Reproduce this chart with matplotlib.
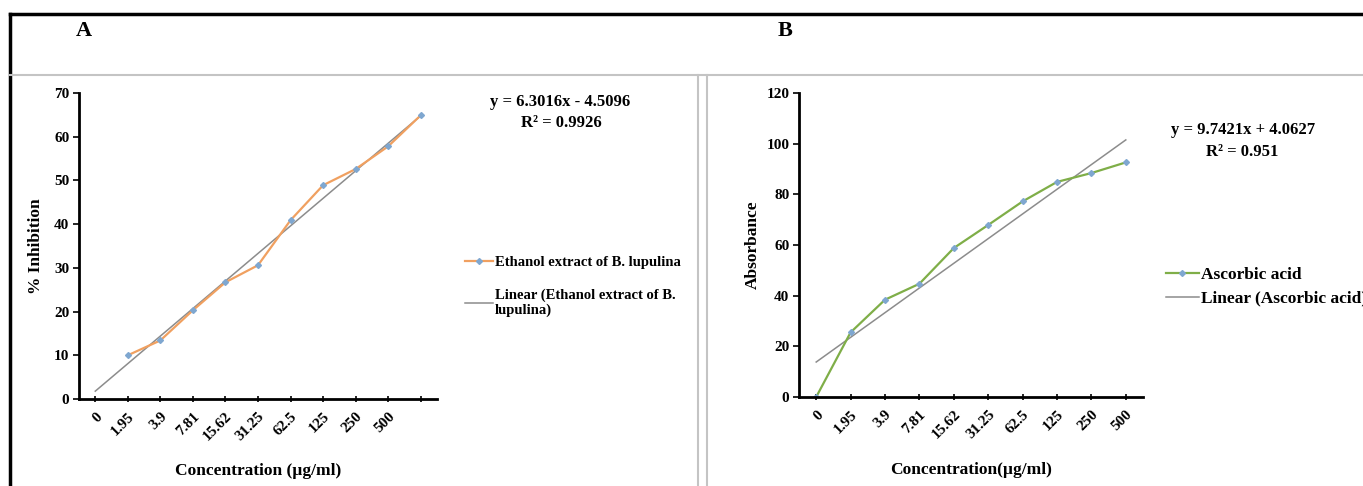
import numpy as np
import matplotlib
matplotlib.use('Agg')
import matplotlib.pyplot as plt
from matplotlib.lines import Line2D

plt.rcParams['font.family'] = ['Liberation Serif', 'DejaVu Serif']
plt.rcParams['font.weight'] = 'bold'

# Panel A - ethanol extract, % inhibition
labels_a = ['0', '1.95', '3.9', '7.81', '15.62', '31.25', '62.5', '125', '250', '500', '']
pos_a = [2, 3, 4, 5, 6, 7, 8, 9, 10, 11]
inhib_a = [10.0, 13.4, 20.3, 26.7, 30.6, 40.9, 48.9, 52.6, 57.8, 64.9]
slope_a, icpt_a = 6.3016, -4.5096

# Panel B - ascorbic acid
labels_b = ['0', '1.95', '3.9', '7.81', '15.62', '31.25', '62.5', '125', '250', '500']
pos_b = [1, 2, 3, 4, 5, 6, 7, 8, 9, 10]
absorb_b = [0.0, 25.5, 38.4, 44.7, 58.8, 67.9, 77.2, 84.9, 88.4, 92.6]
slope_b, icpt_b = 9.7421, 4.0627

W, H = 1363, 486
fig = plt.figure(figsize=(W / 100, H / 100), dpi=100)


def fx(px):
    return px / W


def fy(py):
    return 1 - py / H


# outer black frame and gray panel frames
fig.add_artist(Line2D([fx(10), fx(10)], [fy(14), 0], color='black', lw=2.5))
fig.add_artist(Line2D([fx(10), 1], [fy(14), fy(14)], color='black', lw=2.5))
fig.add_artist(Line2D([fx(10), 1], [fy(75), fy(75)], color='#c4c4c4', lw=1.5))
fig.add_artist(Line2D([fx(698), fx(698)], [fy(75), 0], color='#c4c4c4', lw=1.5))
fig.add_artist(Line2D([fx(707), fx(707)], [fy(75), 0], color='#c4c4c4', lw=1.5))

fig.text(fx(84), fy(31), 'A', fontsize=16, fontweight='bold', ha='center', va='center')
fig.text(fx(785), fy(31), 'B', fontsize=16, fontweight='bold', ha='center', va='center')


def style_axis(ax):
    for s in ['top', 'right']:
        ax.spines[s].set_visible(False)
    for s in ['left', 'bottom']:
        ax.spines[s].set_linewidth(2)
        ax.spines[s].set_color('black')
    ax.tick_params(axis='y', direction='out', length=4, width=1.2, labelsize=11, pad=3)
    ax.tick_params(axis='x', direction='inout', length=4, width=1.2, labelsize=11, pad=6)
    for t in ax.get_xticklabels():
        t.set_rotation(45)
        t.set_ha('right')
        t.set_rotation_mode('anchor')
    for t in ax.get_xticklabels() + ax.get_yticklabels():
        t.set_fontweight('bold')


# ---- Panel A ----
axA = fig.add_axes([fx(79), fy(399), fx(437 - 79), (399 - 93) / H])
xa = np.arange(1, len(labels_a) + 1)
axA.plot(xa, slope_a * xa + icpt_a, color='#8c8c8c', lw=1.1, label='Linear (Ethanol extract of B.\nlupulina)')
axA.plot(pos_a, inhib_a, color='#f0a060', lw=1.6, marker='D', markersize=3,
         markerfacecolor='#7fa7d0', markeredgecolor='#7fa7d0', label='Ethanol extract of B. lupulina')
axA.set_xlim(0.5, 11.5)
axA.set_ylim(0, 70)
axA.set_yticks(range(0, 71, 10))
axA.set_xticks(xa)
axA.set_xticklabels(labels_a)
style_axis(axA)
axA.set_ylabel('% Inhibition', fontsize=12.5, fontweight='bold', labelpad=7)
axA.set_xlabel('Concentration (µg/ml)', fontsize=12.5, fontweight='bold', labelpad=14)
h, l = axA.get_legend_handles_labels()
axA.legend([h[1], h[0]], [l[1], l[0]], loc='upper left', bbox_to_anchor=(fx(452), fy(243)),
           bbox_transform=fig.transFigure, frameon=False, fontsize=10.5, handlelength=1.9,
           handletextpad=0.15, labelspacing=1.3)
fig.text(fx(560), fy(102), 'y = 6.3016x - 4.5096', fontsize=12, fontweight='bold', ha='center', va='center')
fig.text(fx(561), fy(123), 'R² = 0.9926', fontsize=12, fontweight='bold', ha='center', va='center')

# ---- Panel B ----
axB = fig.add_axes([fx(799), fy(397), fx(1143 - 799), (397 - 93) / H])
axB.plot(pos_b, slope_b * np.array(pos_b) + icpt_b, color='#8c8c8c', lw=1.1, label='Linear (Ascorbic acid)')
axB.plot(pos_b, absorb_b, color='#7fae48', lw=1.6, marker='D', markersize=3,
         markerfacecolor='#7fa7d0', markeredgecolor='#7fa7d0', label='Ascorbic acid')
axB.set_xlim(0.5, 10.5)
axB.set_ylim(0, 120)
axB.set_yticks(range(0, 121, 20))
axB.set_xticks(pos_b)
axB.set_xticklabels(labels_b)
style_axis(axB)
axB.set_ylabel('Absorbance', fontsize=12.5, fontweight='bold', labelpad=4)
axB.set_xlabel('Concentration(µg/ml)', fontsize=12.5, fontweight='bold', labelpad=15)
h, l = axB.get_legend_handles_labels()
axB.legend([h[1], h[0]], [l[1], l[0]], loc='upper left', bbox_to_anchor=(fx(1150), fy(251)),
           bbox_transform=fig.transFigure, frameon=False, fontsize=12.5, handlelength=1.9,
           handletextpad=0.15, labelspacing=0.45)
fig.text(fx(1243), fy(130), 'y = 9.7421x + 4.0627', fontsize=12, fontweight='bold', ha='center', va='center')
fig.text(fx(1242), fy(152), 'R² = 0.951', fontsize=12, fontweight='bold', ha='center', va='center')

fig.savefig('out.png', dpi=100)
